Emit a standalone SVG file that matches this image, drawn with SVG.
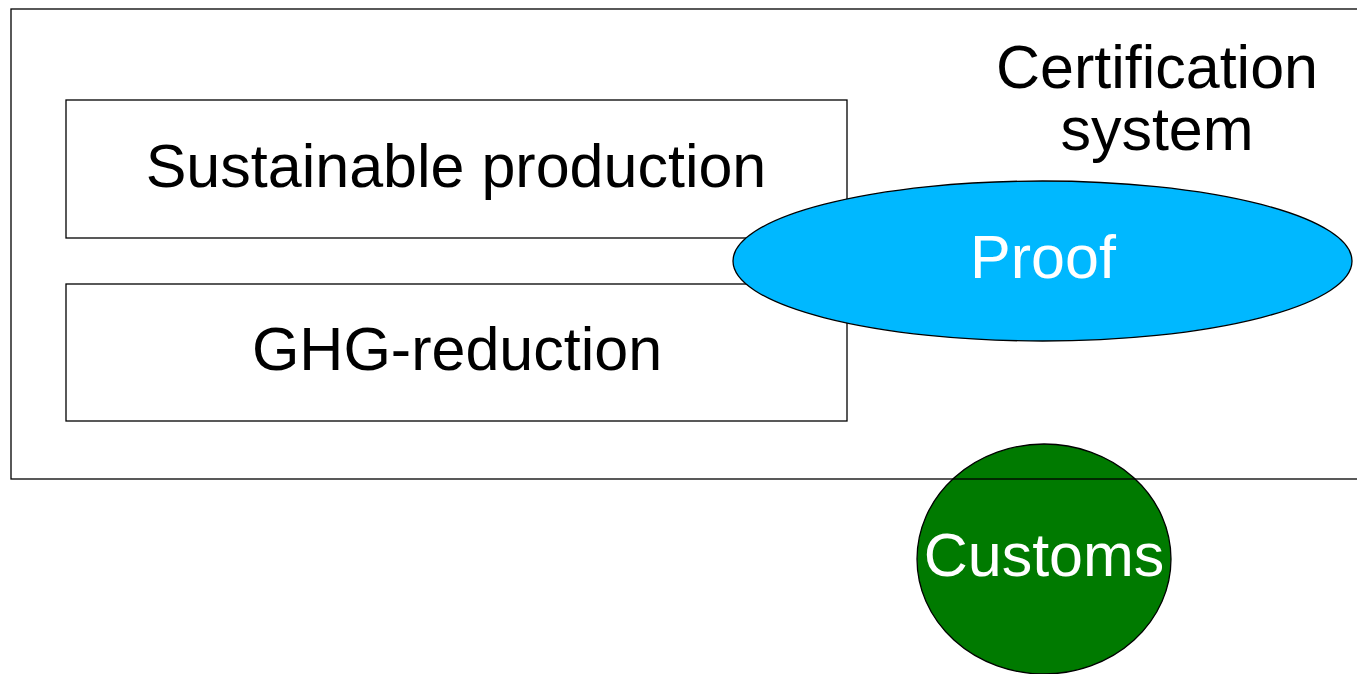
<svg xmlns="http://www.w3.org/2000/svg" width="1357" height="674" viewBox="0 0 1357 674">
<style>
.box{fill:#fff;stroke:#000;stroke-width:1.3}
.frame{fill:none;stroke:#000;stroke-width:1.3}
.t{font-family:"Liberation Sans",Arial,sans-serif;font-size:61px;text-anchor:middle}
.w{fill:#fff}
.k{fill:#000}
</style>
<rect width="1357" height="674" fill="#fff"/>
<g id="customs">
<ellipse cx="1044" cy="559" rx="127" ry="115" fill="#007a00" stroke="#000" stroke-width="1.3"/>
<text class="t w" x="1044" y="576">Customs</text>
</g>
<g id="certification-system">
<rect class="frame" x="11" y="9" width="1360" height="470"/>
<text class="t k" x="1157" y="88">Certification</text>
<text class="t k" x="1157" y="150">system</text>
</g>
<g id="sustainable-production">
<rect class="box" x="66" y="100" width="781" height="138"/>
<text class="t k" x="456" y="187">Sustainable production</text>
</g>
<g id="ghg-reduction">
<rect class="box" x="66" y="284" width="781" height="137"/>
<text class="t k" x="457" y="370">GHG-reduction</text>
</g>
<g id="proof">
<ellipse cx="1042.5" cy="261" rx="309.5" ry="80" fill="#00b8ff" stroke="#000" stroke-width="1.3"/>
<text class="t w" x="1043" y="278">Proof</text>
</g>
<g id="connectors"></g>
</svg>
